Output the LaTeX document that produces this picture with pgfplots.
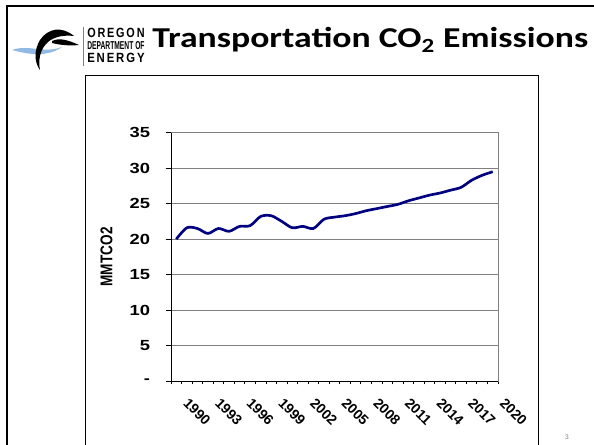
\documentclass[border=0pt]{standalone}
\usepackage{pgfplots}
\pgfplotsset{compat=1.18}
\usepackage{fontspec}
\setmainfont{Liberation Sans}
\newfontfamily\calibri{Carlito}
\newcommand{\sx}[1]{\scalebox{1.25}[1]{#1}}
\definecolor{navy}{RGB}{0,0,128}
\definecolor{logoblue}{RGB}{70,140,210}

\begin{document}
\begin{tikzpicture}
\begin{scope}[x=0.75pt,y=-0.75pt]
\useasboundingbox (0,0) rectangle (594,445);
\fill[white] (0,0) rectangle (594,445);
% slide frame
\draw[line width=1.5pt] (7,445) -- (7,6) -- (594,6);
% inner chart box
\draw[line width=0.6pt] (85,445) -- (85,75) -- (538,75) -- (538,445);
% logo
\fill[logoblue!60] (12,50) .. controls (28,44) and (44,54) .. (62,47) .. controls (48,57) and (30,55) .. (12,50) -- cycle;
\fill[black] (74,36) .. controls (62,26) and (48,28) .. (40,40) .. controls (34,50) and (34,62) .. (40,70) .. controls (38,60) and (40,49) .. (48,42) .. controls (55,36) and (65,35) .. (74,36) -- cycle;
\fill[black] (52,41) .. controls (60,37) and (70,41) .. (79,45) .. controls (69,46) and (60,45) .. (52,43) -- cycle;
\draw[line width=0.6pt,gray] (83,27) -- (83,66);
\node[anchor=north west, inner sep=0pt] at (87,28) {\resizebox{43pt}{7pt}{\bfseries O\,R\,E\,G\,O\,N}};
\node[anchor=north west, inner sep=0pt] at (87,41) {\resizebox{43pt}{6pt}{\bfseries DEPARTMENT OF}};
\node[anchor=north west, inner sep=0pt] at (87,53) {\resizebox{43pt}{7pt}{\bfseries E\,N\,E\,R\,G\,Y}};
% title
\node[anchor=base west, inner sep=0pt] at (152,48) {\scalebox{1.24}[1]{\calibri\fontsize{21.6}{24}\selectfont\bfseries Transportation CO\textsubscript{2} Emissions}};
% page number
\node[gray, font=\fontsize{5}{6}\selectfont, inner sep=0pt] at (567,437) {3};
\end{scope}
\begin{axis}[
  scale only axis, width=245.25pt, height=186.2pt,
  anchor=south west, at={(128.25pt,-285.75pt)},
  xmin=1989.5, xmax=2020.5, ymin=0, ymax=35,
  axis line style={draw=gray, line width=0.6pt},
  ytick={0,5,10,15,20,25,30,35},
  yticklabels={\sx{-},\sx{5},\sx{10},\sx{15},\sx{20},\sx{25},\sx{30},\sx{35}},
  yticklabel style={font=\fontsize{11}{13}\selectfont\bfseries, anchor=east, inner sep=0pt, xshift=-11.5pt},
  ymajorgrids, grid style={gray, line width=0.6pt},
  tick align=outside, major tick length=4pt,
  xtick pos=lower, ytick pos=left,
  tick style={black, line width=0.6pt},
  xtick={1990,1993,1996,1999,2002,2005,2008,2011,2014,2017,2020},
  xticklabels={1990,1993,1996,1999,2002,2005,2008,2011,2014,2017,2020},
  major x tick style={draw=none},
  minor xtick={1989.5,1990.5,...,2020.5},
  minor tick length=2.5pt,
  minor x tick style={black, line width=0.6pt},
  xticklabel style={font=\fontsize{10.5}{12}\selectfont\bfseries, xshift=10pt, yshift=-8pt, rotate=-45, anchor=north west, inner sep=0pt},
  ylabel={\scalebox{1}[1.25]{MMTCO2}},
  every axis y label/.style={at={(rel axis cs:0,0.5)}, xshift=-48.4pt, rotate=90, anchor=center, font=\fontsize{10.2}{12}\selectfont\bfseries},
  clip=false,
]
\addplot[color=navy, line width=2pt, smooth, tension=0.5] table {
x y
1990 20.0
1991 21.6
1992 21.5
1993 20.8
1994 21.5
1995 21.1
1996 21.8
1997 21.9
1998 23.2
1999 23.3
2000 22.5
2001 21.6
2002 21.8
2003 21.5
2004 22.8
2005 23.1
2006 23.3
2007 23.6
2008 24.0
2009 24.3
2010 24.6
2011 24.9
2012 25.4
2013 25.8
2014 26.2
2015 26.5
2016 26.9
2017 27.3
2018 28.3
2019 29.0
2020 29.5
};
\draw[black, line width=0.6pt] (rel axis cs:0,1) -- (rel axis cs:0,0) -- (rel axis cs:1,0);
\end{axis}
\end{tikzpicture}
\end{document}
